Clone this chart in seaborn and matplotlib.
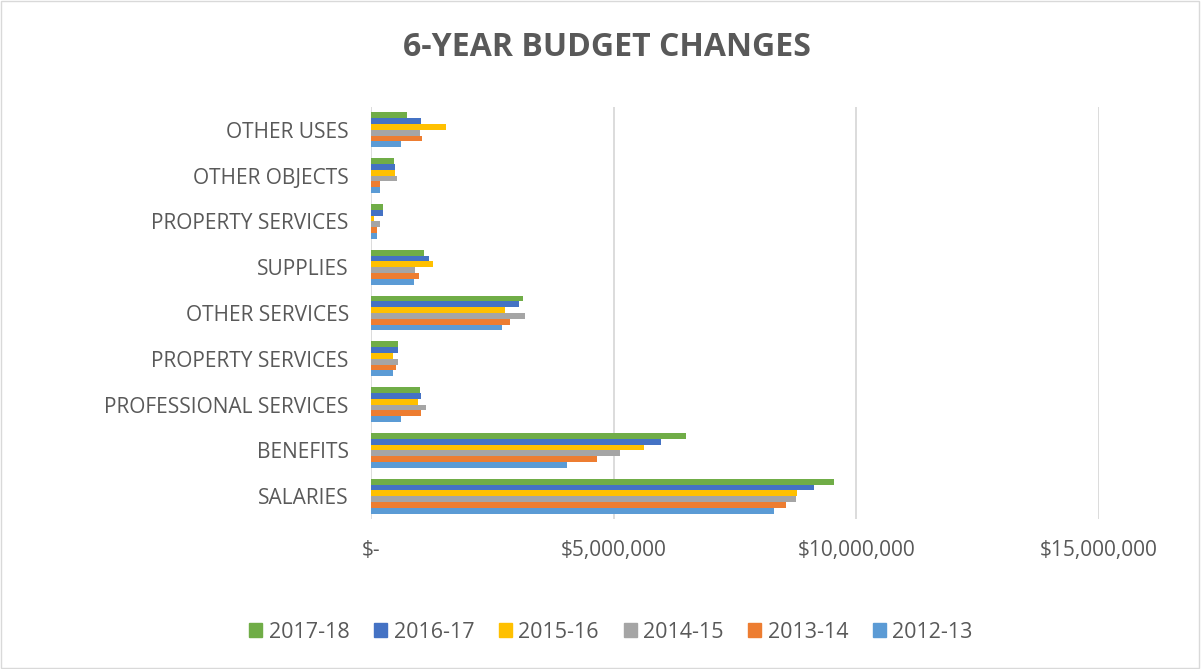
import matplotlib
matplotlib.use("Agg")
import matplotlib.pyplot as plt
import matplotlib.ticker as mticker
from matplotlib.patches import Rectangle
import seaborn as sns
import pandas as pd

# Budget line items, top to bottom
categories = [
    "OTHER USES", "OTHER OBJECTS", "PROPERTY SERVICES", "SUPPLIES",
    "OTHER SERVICES", "PROPERTY SERVICES", "PROFESSIONAL SERVICES",
    "BENEFITS", "SALARIES",
]
years = ["2017-18", "2016-17", "2015-16", "2014-15", "2013-14", "2012-13"]

# Amounts in dollars, one list per fiscal year (same order as categories)
fy_2017_18 = [740_000, 470_000, 250_000, 1_090_000, 3_130_000, 550_000, 1_010_000, 6_490_000, 9_530_000]
fy_2016_17 = [1_020_000, 500_000, 250_000, 1_200_000, 3_040_000, 550_000, 1_040_000, 5_970_000, 9_120_000]
fy_2015_16 = [1_540_000, 500_000, 60_000, 1_280_000, 2_760_000, 460_000, 970_000, 5_620_000, 8_780_000]
fy_2014_15 = [1_010_000, 540_000, 190_000, 910_000, 3_170_000, 550_000, 1_130_000, 5_130_000, 8_760_000]
fy_2013_14 = [1_050_000, 190_000, 120_000, 990_000, 2_870_000, 510_000, 1_020_000, 4_650_000, 8_560_000]
fy_2012_13 = [620_000, 190_000, 130_000, 890_000, 2_690_000, 450_000, 620_000, 4_030_000, 8_310_000]

series = [fy_2017_18, fy_2016_17, fy_2015_16, fy_2014_15, fy_2013_14, fy_2012_13]
colors = ["#70AD47", "#4472C4", "#FFC000", "#A5A5A5", "#ED7D31", "#5B9BD5"]

# Long-form table; a row key keeps the two "PROPERTY SERVICES" rows distinct
keys = [f"{i}" for i in range(len(categories))]
rows = []
for year, vals in zip(years, series):
    for k, v in zip(keys, vals):
        rows.append({"key": k, "year": year, "amount": v})
df = pd.DataFrame(rows)

sns.set_theme(style="white")
plt.rcParams["font.family"] = ["Open Sans", "DejaVu Sans"]

text_color = "#595959"
grid_color = "#D9D9D9"

fig = plt.figure(figsize=(12.01, 6.69), dpi=100)
ax = fig.add_axes([371 / 1201, 1 - 519 / 669, (1099 - 371) / 1201, (519 - 107) / 669])

sns.barplot(
    data=df, y="key", x="amount", hue="year", order=keys, hue_order=years,
    palette=colors, orient="h", width=0.76, saturation=1, ax=ax, errorbar=None,
    linewidth=0,
)

ax.set_xlim(0, 15_000_000)
ax.set_xticks([0, 5_000_000, 10_000_000, 15_000_000])
ax.xaxis.set_major_formatter(
    mticker.FuncFormatter(lambda v, p: "$-" if v == 0 else f"${v:,.0f}")
)
ax.set_yticks(range(len(categories)))
ax.set_yticklabels(categories)
ax.set_xlabel("")
ax.set_ylabel("")

ax.grid(axis="x", color=grid_color, linewidth=1.3)
ax.grid(axis="y", visible=False)
ax.set_axisbelow(True)
for s in ax.spines.values():
    s.set_visible(False)
ax.tick_params(axis="both", length=0, labelsize=15, labelcolor=text_color)
ax.tick_params(axis="y", pad=16)
ax.tick_params(axis="x", pad=15)

ax.get_legend().remove()
handles = [Rectangle((0, 0), 1, 1, color=c) for c in colors]
fig.legend(
    handles, years, loc="center", bbox_to_anchor=(611 / 1201, 1 - 632 / 669),
    ncol=6, frameon=False, fontsize=15.5, labelcolor=text_color,
    handlelength=0.6, handleheight=0.6, handletextpad=0.3, columnspacing=1.15,
)

fig.text(607 / 1201, 1 - 47 / 669, "6-YEAR BUDGET CHANGES", ha="center", va="center",
         fontsize=23, fontweight="bold", color=text_color)

# Chart frame
fig.add_artist(Rectangle((0.001, 0.001), 0.997, 0.997, transform=fig.transFigure,
                         fill=False, edgecolor=grid_color, linewidth=1))

fig.savefig("out.png", dpi=100)
